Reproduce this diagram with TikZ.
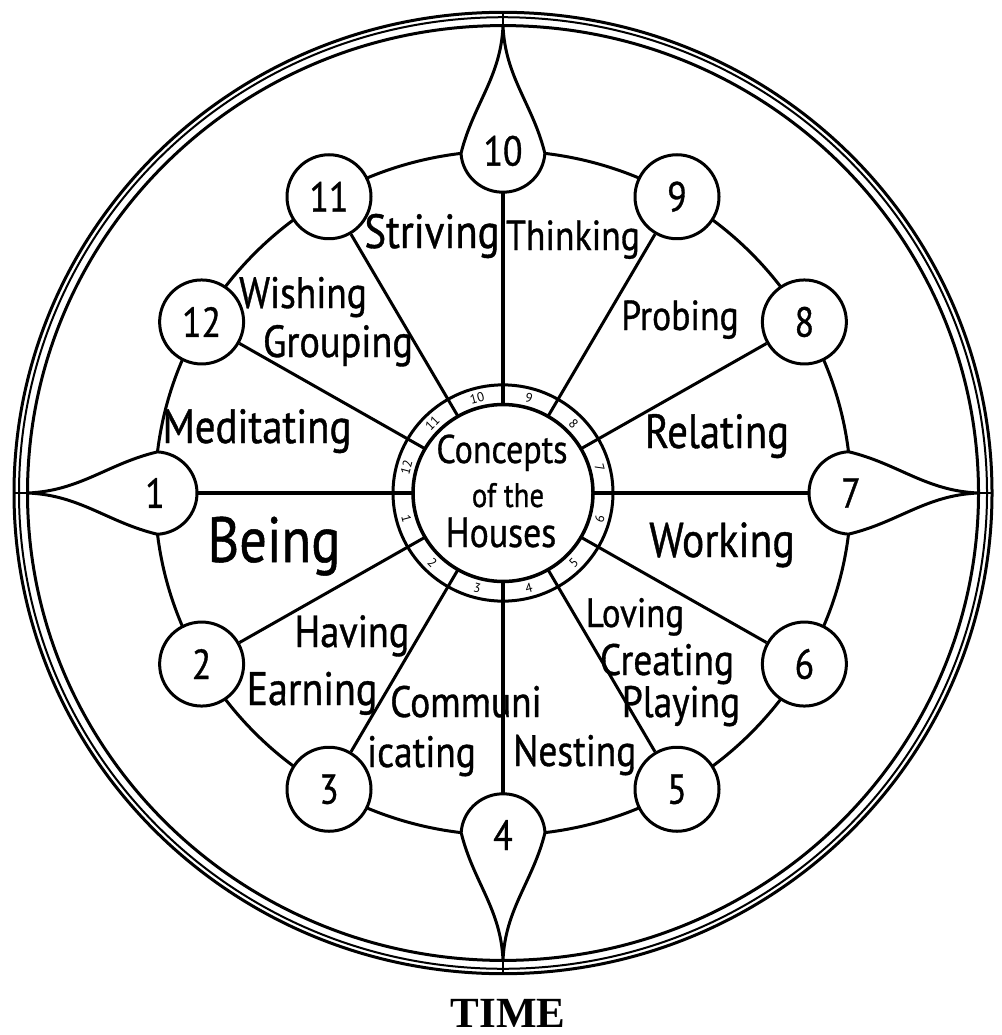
\documentclass[tikz,border=0pt]{standalone}
\usepackage{fontspec}
\setmainfont{PT Sans}
\newfontfamily\hand[FakeStretch=0.85,FakeBold=0.8]{PT Sans}
\newfontfamily\timesf{Liberation Serif}
\begin{document}
\begin{tikzpicture}[x=1pt,y=1pt,
  ring/.style={line width=3pt},
  hc/.style={circle, draw, line width=3pt, fill=white, minimum size=84pt, inner sep=0pt, font=\hand\fontsize{42}{42}\selectfont},
  hcx/.style={circle, minimum size=84pt, inner sep=0pt, font=\hand\fontsize{42}{42}\selectfont},
  drop/.style={line width=3pt, fill=white},
  lab/.style={anchor=base, inner sep=0pt, font=\hand\fontsize{46}{46}\selectfont},
  fs/.style={font=\hand\fontsize{#1}{#1}\selectfont},
  rnum/.style={inner sep=0pt, font=\fontsize{13}{13}\selectfont}
]
\useasboundingbox (0,0) rectangle (1001,-1035);
\begin{scope}[shift={(503,-493)}, yscale=0.983]
  % outer circles
  \draw[line width=3pt] (0,0) circle (489);
  \draw[line width=2pt] (0,0) circle (484);
  \draw[line width=3pt] (0,0) circle (475.5);
  \foreach \a in {0,90,180,270}
    \draw[line width=2.5pt] (\a:475.5) -- (\a:489);
  % wheel ring
  \draw[ring] (0,0) circle (348);
  % teardrops for angular houses
  \foreach \a in {0,90,180,270} {
    \begin{scope}[shift={(\a:348)}, rotate=\a]
      \draw[drop] (-2.5,42) arc[start angle=93.4, end angle=266.6, radius=42]
        .. controls (47,-30) and (75,-2) .. (127.5,0)
        .. controls (75,2) and (47,30) .. (-2.5,42) -- cycle;
    \end{scope}
  }
  % house circles
  \foreach \k/\st in {1/hcx,2/hc,3/hc,4/hcx,5/hc,6/hc,7/hcx,8/hc,9/hc,10/hcx,11/hc,12/hc} {
    \pgfmathsetmacro\ang{180+30*(\k-1)}
    \coordinate (s\k) at (\ang:90);
    \node[\st] (h\k) at (\ang:348) {\k};
  }
  % spokes
  \foreach \k/\w in {1/4.5,2/3,3/3,4/4.5,5/3,6/3,7/4.5,8/3,9/3,10/4.5,11/3,12/3}
    \draw[line width=\w pt] (s\k) -- (h\k);
  % center rings
  \draw[ring] (0,0) circle (110);
  \draw[line width=3.5pt] (0,0) circle (90);
  \foreach \k in {1,...,12} {
    \pgfmathsetmacro\phi{195+30*(\k-1)}
    \pgfmathsetmacro\rot{ifthenelse(\phi>360, \phi-450, \phi+90)}
    \node[rnum, rotate=\rot] (r\k) at (\phi:100) {\k};
  }
\end{scope}
% center text
\node[inner sep=0pt, anchor=base, fs=40] (c1) at (502,-463) {Concepts};
\node[inner sep=0pt, anchor=base, fs=34] (c2) at (508,-507) {of the};
\node[inner sep=0pt, anchor=base, fs=42] (c3) at (501,-547) {Houses};
% house concept labels
\node[lab, fs=48] (tStr) at (432,-248) {Striving};
\node[lab, fs=42] (tThi) at (573,-250) {Thinking};
\node[lab, fs=44] (tWis) at (303,-308) {Wishing};
\node[lab, fs=45] (tGro) at (338,-357) {Grouping};
\node[lab, fs=42] (tPro) at (680,-330) {Probing};
\node[lab, fs=48] (tMed) at (257,-443) {Meditating};
\node[lab, fs=48] (tRel) at (717,-448) {Relating};
\node[lab, fs=64] (tBei) at (274,-562) {Being};
\node[lab, fs=49] (tWor) at (722,-557) {Working};
\node[lab, fs=45] (tHav) at (352,-647) {Having};
\node[lab, fs=47] (tEar) at (312,-705) {Earning};
\node[lab, fs=44, anchor=base west] (tCom) at (390,-717) {Communi};
\node[lab, fs=44, anchor=base west] (tIca) at (367,-767) {icating};
\node[lab, fs=44, anchor=base west] (tNes) at (513,-766) {Nesting};
\node[lab, fs=41] (tLov) at (635,-627) {Loving};
\node[lab, fs=44] (tCre) at (667,-675) {Creating};
\node[lab, fs=44] (tPla) at (681,-717) {Playing};
% title
\node[inner sep=0pt, anchor=base, font=\timesf\bfseries\fontsize{43}{43}\selectfont] (time) at (508,-1027) {TIME};
\end{tikzpicture}
\end{document}
